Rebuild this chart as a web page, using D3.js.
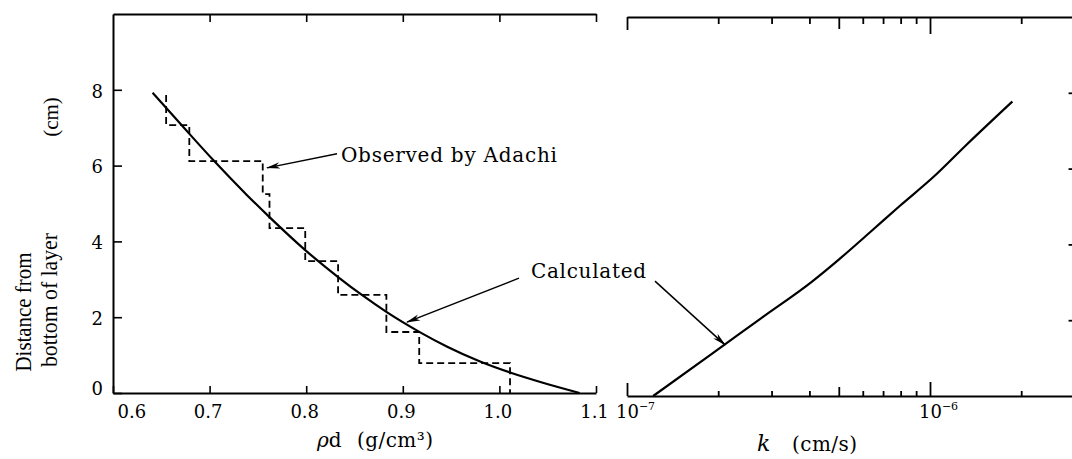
<!DOCTYPE html>
<html><head><meta charset="utf-8">
<script src="https://cdn.jsdelivr.net/npm/d3@7"></script>
<style>
html,body{margin:0;padding:0;background:#fff;}
svg{display:block;}
</style></head><body>
<svg id="chart" width="1072" height="459"></svg>
<script>
// ---------------- data ----------------
const rhoTicks = [0.6, 0.7, 0.8, 0.9, 1.0, 1.1];
const rhoTopTicks = [0.7, 0.8, 0.9, 1.0, 1.1];
const zTicks = [0, 2, 4, 6, 8];
const zRightTicks = [2, 4, 6, 8];

// calculated dry density profile (left panel)
const calcRho = [0.641, 0.673, 0.704, 0.738, 0.762, 0.799, 0.833, 0.858, 0.883, 0.918, 0.946, 0.980, 1.011, 1.045, 1.083];
const calcZ   = [7.92, 7.01, 6.14, 5.24, 4.64, 3.77, 3.06, 2.58, 2.14, 1.60, 1.22, 0.83, 0.54, 0.27, 0];

// observed by Adachi: layer densities and layer boundaries (top to bottom)
const obsRho = [0.655, 0.679, 0.755, 0.762, 0.799, 0.833, 0.883, 0.917, 1.011];
const obsZ   = [7.86, 7.07, 6.12, 5.25, 4.35, 3.48, 2.59, 1.61, 0.79, 0];

// calculated permeability profile (right panel)
const calcK  = [1.22e-7, 1.91e-7, 2.79e-7, 4.08e-7, 5.00e-7, 6.34e-7, 7.96e-7, 1.03e-6, 1.32e-6, 1.87e-6];
const calcKZ = [0, 1.12, 2.07, 3.02, 3.60, 4.32, 5.02, 5.79, 6.63, 7.77];

const kMinorTicks = [2e-7, 3e-7, 4e-7, 6e-7, 7e-7, 8e-7, 9e-7, 2e-6];
const kMidTicks = [5e-7];
const kDecadeTicks = [1e-7, 1e-6];
const kTickExp = ["−7", "−6"];

const yTitleLines = ["Distance from", "bottom of layer"];
const yUnit = "(cm)";
const obsLabel = "Observed by Adachi";
const calcLabel = "Calculated";
const obsLabelAt = [0.836, 6.095];
const obsArrow = [[0.8319, 6.31], [0.7594, 5.94]];
const calcLabelAt = [1.0327, 3.04];
const calcArrowLeft = [[1.0203, 3.03], [0.9043, 1.87]];
const calcArrowRight = [[1.237e-7, 3.03], [2.107e-7, 1.35]];

// ---------------- scales ----------------
const svg = d3.select("#chart");
const xL = d3.scaleLinear().domain([0.6, 1.1]).range([113, 596]);
const yL = d3.scaleLinear().domain([0, 10]).range([393, 14]);
const xR = d3.scaleLog().domain([1e-7, 3e-6]).range([627, 627 + 303 * Math.log10(30)]);
const yR = d3.scaleLinear().domain([0, 10]).range([396, 17]);

const INK = "#000";
const serif = "'DejaVu Serif', serif";
const times = "'Liberation Serif', 'Times New Roman', serif";

function styleAxis(g, tickW) {
  g.attr("color", INK);
  g.select(".domain").attr("stroke-width", 2);
  g.selectAll(".tick line").attr("stroke-width", tickW || 1.6);
  g.selectAll(".tick text").attr("font-family", serif).attr("font-size", 18).attr("fill", INK);
}
function ticksOnly(g) { g.select(".domain").remove(); }

// ---------------- left panel axes ----------------
const gLB = svg.append("g").attr("transform", `translate(0,${yL(0)})`)
  .call(d3.axisBottom(xL).tickValues(rhoTicks).tickSizeInner(-7).tickSizeOuter(0)
    .tickPadding(12).tickFormat(d3.format(".1f")));
styleAxis(gLB);
gLB.selectAll(".tick text").attr("x", d => d === 0.6 ? 4 : -2)
  .attr("text-anchor", d => d === 0.6 ? "start" : "middle");

const gLT = svg.append("g").attr("transform", `translate(0,${yL(10)})`)
  .call(d3.axisTop(xL).tickValues(rhoTopTicks).tickSizeInner(-8).tickSizeOuter(0).tickFormat(""));
styleAxis(gLT);

const gLL = svg.append("g").attr("transform", `translate(${xL(0.6)},0)`)
  .call(d3.axisLeft(yL).tickValues(zTicks).tickSizeInner(-9).tickSizeOuter(0).tickPadding(10));
styleAxis(gLL);
gLL.selectAll(".tick text").attr("dy", d => d === 0 ? "0.1em" : "0.4em");

// ---------------- right panel axes ----------------
const gRB = svg.append("g").attr("transform", `translate(0,${yR(0)})`)
  .call(d3.axisBottom(xR).tickValues([]).tickSizeOuter(0));
styleAxis(gRB);
[[kMinorTicks, -5], [kMidTicks, -9], [[kDecadeTicks[1]], -14], [[kDecadeTicks[0]], -13]].forEach(([vals, s]) => {
  const g = svg.append("g").attr("transform", `translate(0,${yR(0)})`)
    .call(d3.axisBottom(xR).tickValues(vals).tickSizeInner(s).tickSizeOuter(0).tickFormat(""));
  ticksOnly(g); styleAxis(g, 1.8);
});

const gRT = svg.append("g").attr("transform", `translate(0,${yR(10)})`)
  .call(d3.axisTop(xR).tickValues([]).tickSizeOuter(0));
styleAxis(gRT);
[[kMinorTicks, -7], [kMidTicks, -12], [[kDecadeTicks[1]], -17], [[kDecadeTicks[0]], -13]].forEach(([vals, s]) => {
  const g = svg.append("g").attr("transform", `translate(0,${yR(10)})`)
    .call(d3.axisTop(xR).tickValues(vals).tickSizeInner(s).tickSizeOuter(0).tickFormat(""));
  ticksOnly(g); styleAxis(g, 1.8);
});

const gRR = svg.append("g").attr("transform", `translate(${xR.range()[1]},0)`)
  .call(d3.axisLeft(yR).tickValues(zRightTicks).tickSizeInner(6).tickSizeOuter(0).tickFormat(""));
styleAxis(gRR, 1.8);

// decade labels 10^-7, 10^-6
const decLab = svg.append("g").selectAll("text").data(kDecadeTicks).join("text")
  .attr("x", d => xR(d) - 11).attr("y", 418)
  .attr("font-family", serif).attr("font-size", 18).attr("fill", INK);
decLab.append("tspan").text("10");
decLab.append("tspan").attr("font-size", 11).attr("dy", -8).text((d, i) => kTickExp[i]);

// ---------------- marks ----------------
const lineL = d3.line().x(d => xL(d[0])).y(d => yL(d[1])).curve(d3.curveMonotoneX);
svg.append("path").datum(calcRho.map((r, i) => [r, calcZ[i]]))
  .attr("d", lineL).attr("fill", "none").attr("stroke", INK).attr("stroke-width", 2.2);

const stepPts = [];
obsRho.forEach((r, i) => { stepPts.push([r, obsZ[i]]); stepPts.push([r, obsZ[i + 1]]); });
svg.append("path").datum(stepPts)
  .attr("d", d3.line().x(d => xL(d[0])).y(d => yL(d[1])))
  .attr("fill", "none").attr("stroke", INK).attr("stroke-width", 1.8)
  .attr("stroke-dasharray", "7,4");

const lineR = d3.line().x(d => xR(d[0])).y(d => yR(d[1])).curve(d3.curveMonotoneX);
svg.append("path").datum(calcK.map((k, i) => [k, calcKZ[i]]))
  .attr("d", lineR).attr("fill", "none").attr("stroke", INK).attr("stroke-width", 2.2);

// ---------------- annotations ----------------
svg.append("defs").append("marker").attr("id", "ah")
  .attr("markerUnits", "userSpaceOnUse").attr("viewBox", "0 0 14 8")
  .attr("markerWidth", 14).attr("markerHeight", 8).attr("refX", 13).attr("refY", 4)
  .attr("orient", "auto")
  .append("path").attr("d", "M0,0.8 L14,4 L0,7.2 L4,4 Z").attr("fill", INK);

function arrow(pts, sx, sy) {
  svg.append("line")
    .attr("x1", sx(pts[0][0])).attr("y1", sy(pts[0][1]))
    .attr("x2", sx(pts[1][0])).attr("y2", sy(pts[1][1]))
    .attr("stroke", INK).attr("stroke-width", 1.5).attr("marker-end", "url(#ah)");
}
arrow(obsArrow, xL, yL);
arrow(calcArrowLeft, xL, yL);
arrow(calcArrowRight, xR, yR);

svg.append("text").attr("x", xL(obsLabelAt[0])).attr("y", yL(obsLabelAt[1]))
  .attr("font-family", serif).attr("font-size", 20).attr("fill", INK)
  .attr("textLength", 216).attr("lengthAdjust", "spacing").text(obsLabel);
svg.append("text").attr("x", xL(calcLabelAt[0])).attr("y", yL(calcLabelAt[1]))
  .attr("font-family", serif).attr("font-size", 20).attr("fill", INK)
  .attr("textLength", 115).attr("lengthAdjust", "spacing").text(calcLabel);

// ---------------- axis titles ----------------
svg.append("text").attr("transform", "translate(31,312) rotate(-90)")
  .attr("text-anchor", "middle").attr("font-family", times).attr("font-size", 23).attr("fill", INK)
  .attr("textLength", 119).attr("lengthAdjust", "spacingAndGlyphs").text(yTitleLines[0]);
svg.append("text").attr("transform", "translate(57,300) rotate(-90)")
  .attr("text-anchor", "middle").attr("font-family", times).attr("font-size", 23).attr("fill", INK)
  .attr("textLength", 134).attr("lengthAdjust", "spacingAndGlyphs").text(yTitleLines[1]);
svg.append("text").attr("transform", "translate(58,117) rotate(-90)")
  .attr("text-anchor", "middle").attr("font-family", times).attr("font-size", 21).attr("fill", INK)
  .text(yUnit);

const xtL = svg.append("text").attr("x", 317).attr("y", 447)
  .attr("font-family", serif).attr("font-size", 20).attr("fill", INK);
xtL.append("tspan").attr("font-style", "italic").text("ρ");
xtL.append("tspan").text("d");
svg.append("text").attr("x", 357).attr("y", 447)
  .attr("font-family", serif).attr("font-size", 20).attr("fill", INK)
  .attr("textLength", 76).attr("lengthAdjust", "spacing").text("(g/cm³)");

svg.append("text").attr("x", 757).attr("y", 451)
  .attr("font-family", serif).attr("font-size", 22).attr("font-style", "italic")
  .attr("fill", INK).text("k");
svg.append("text").attr("x", 792).attr("y", 451)
  .attr("font-family", serif).attr("font-size", 20).attr("fill", INK)
  .attr("textLength", 65).attr("lengthAdjust", "spacing").text("(cm/s)");
</script>
</body></html>
